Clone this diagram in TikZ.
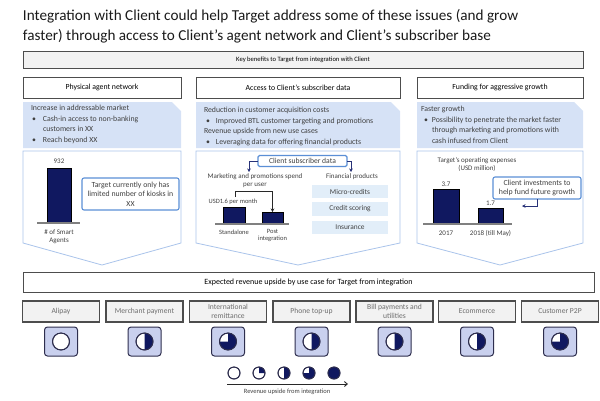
\documentclass[tikz,border=0pt]{standalone}
\usepackage{fontspec}
\setmainfont{Carlito}
\usetikzlibrary{arrows.meta}
\definecolor{navy}{RGB}{16,24,96}
\definecolor{lblue}{RGB}{214,226,246}
\definecolor{pborder}{RGB}{170,196,235}
\definecolor{cborder}{RGB}{91,143,214}
\definecolor{hborder}{RGB}{77,77,77}
\definecolor{greyfill}{RGB}{242,242,242}
\definecolor{iconfill}{RGB}{201,208,238}
\definecolor{iconborder}{RGB}{46,46,78}
\definecolor{finfill}{RGB}{226,238,249}
\definecolor{txt}{RGB}{64,64,64}
\definecolor{uctext}{RGB}{110,110,110}
\definecolor{axisgrey}{RGB}{128,128,128}
\definecolor{arrowblue}{RGB}{40,50,120}
\newcommand\hball[5]{%
  \node[hbnode, minimum size=2*#4pt] (#1) at (#2,#3) {};
  \ifnum#5>0 \fill[navy] (#1.center) -- ++(90:#4pt) arc[start angle=90, delta angle=-90*#5, radius=#4pt] -- cycle;\fi
  \draw[iconborder, line width=0.9pt] (#1.center) circle[radius=#4pt];
}
\begin{document}
\begin{tikzpicture}[x=1pt,y=-1pt,
  every node/.style={inner sep=0pt, outer sep=0pt, text=txt},
  titletext/.style={anchor=base west, font=\fontsize{15.2}{18}\selectfont, text={rgb,255:red,26;green,26;blue,26}},
  keybar/.style={draw=hborder, fill=greyfill, line width=1pt, font=\fontsize{6.6}{8}\selectfont, text=black},
  hdr/.style={draw=hborder, fill=white, line width=1pt, minimum height=21pt, font=\fontsize{7.8}{9}\selectfont, text=black},
  bluebox/.style={fill=lblue},
  panel/.style={draw=pborder, fill=white, line width=0.8pt},
  body/.style={anchor=north west, align=left, font=\fontsize{7.8}{10.4}\selectfont},
  small/.style={font=\fontsize{7}{8}\selectfont, align=center},
  tiny/.style={font=\fontsize{6.5}{7.5}\selectfont, align=center},
  bar/.style={fill=navy, draw=black, line width=0.6pt, anchor=south},
  axisline/.style={draw=axisgrey, line width=1.6pt},
  callout/.style={draw=cborder, fill=white, line width=1.1pt, rounded corners=2pt, align=center, font=\fontsize{7.8}{9.6}\selectfont},
  finbox/.style={fill=finfill, minimum width=76pt, font=\fontsize{7.4}{9}\selectfont},
  conn/.style={draw=arrowblue, line width=0.9pt, -{Stealth[length=3.5pt,width=3.5pt]}},
  bracket/.style={draw={rgb,255:red,40;green,40;blue,40}, line width=0.9pt, -{Stealth[length=3.5pt,width=3.5pt]}},
  ucbox/.style={draw=hborder, fill=greyfill, line width=1.1pt, minimum width=77pt, minimum height=21pt, align=center, font=\fontsize{7.6}{9}\selectfont, text=uctext},
  iconbox/.style={draw=iconborder, fill=iconfill, line width=1pt, rounded corners=3pt, minimum width=33pt, minimum height=29pt},
  hbnode/.style={circle, fill=white, draw=iconborder, line width=0.9pt},
]
\useasboundingbox (0,0) rectangle (600,400);

% title
\node[titletext] (t1) at (23,20) {Integration with Client could help Target address some of these issues (and grow};
\node[titletext] (t2) at (23,40.5) {faster) through access to Client's agent network and Client's subscriber base};

% key benefits bar
\node[keybar, minimum width=560pt, minimum height=17pt] (kb) at (303,59.5) {Key benefits to Target from integration with Client};

% headers
\node[hdr, minimum width=158pt] (h1) at (102,87.5) {Physical agent network};
\node[hdr, minimum width=204pt] (h2) at (298,87.5) {Access to Client's subscriber data};
\node[hdr, minimum width=166pt] (h3) at (500,87.5) {Funding for aggressive growth};

% blue boxes
\path[bluebox] (23,102) -- (172,102) -- (181,111) -- (181,148) -- (23,148) -- cycle;
\path[bluebox] (196,102) -- (391,102) -- (400,111) -- (400,148) -- (196,148) -- cycle;
\path[bluebox] (417,102) -- (574,102) -- (583,111) -- (583,148) -- (417,148) -- cycle;

\node[body] (b1) at (31,105.5) {Increase in addressable market\\
\hspace*{1pt}\makebox[11pt][l]{\textbullet}Cash-in access to non-banking\\
\hspace*{12pt}customers in XX\\
\hspace*{1pt}\makebox[11pt][l]{\textbullet}Reach beyond XX};
\node[body] (b2) at (204,107.5) {Reduction in customer acquisition costs\\
\hspace*{2pt}\makebox[10pt][l]{\textbullet}Improved BTL customer targeting and promotions\\
Revenue upside from new use cases\\
\hspace*{2pt}\makebox[10pt][l]{\textbullet}Leveraging data for offering financial products};
\node[body] (b3) at (421,106.5) {Faster growth\\
\hspace*{3pt}\makebox[8pt][l]{\textbullet}Possibility to penetrate the market faster\\
\hspace*{11pt}through marketing and promotions with\\
\hspace*{11pt}cash infused from Client};

% lower panels
\path[panel] (23,151) -- (181,151) -- (181,243) -- (102,265) -- (23,243) -- cycle;
\path[panel] (196,151) -- (400,151) -- (400,243) -- (298,265) -- (196,243) -- cycle;
\path[panel] (417,151) -- (583,151) -- (583,243) -- (500,265) -- (417,243) -- cycle;

% panel 1 chart
\node[bar, minimum width=24pt, minimum height=55pt] (agents) at (59,223) {};
\node[small] (n932) at (59,161) {932};
\path[axisline] (37,223) -- (80,223);
\node[small] (lagents) at (59,237) {\# of Smart\\Agents};
\node[callout, minimum width=97pt, minimum height=32pt] (kiosk) at (130.5,194) {Target currently only has\\limited number of kiosks in\\XX};

% panel 2
\node[draw=cborder, fill=white, line width=1.1pt, rounded corners=1.5pt, minimum width=89pt, minimum height=11pt, font=\fontsize{7.6}{9}\selectfont] (csd) at (302.5,161) {Client subscriber data};
\coordinate (mktin) at (249,172);
\coordinate (finin) at (351,172);
\draw[conn] (csd.west) -| (mktin);
\draw[conn] (csd.east) -| (finin);
\node[small] (mkt) at (255,181) {Marketing and promotions spend\\per user};
\node[small] (fin) at (352,177) {Financial products};
\node[bar, minimum width=22pt, minimum height=17pt] (stand) at (234,224) {};
\node[bar, minimum width=21pt, minimum height=12pt] (post) at (272.5,224) {};
\path[axisline] (215,224) -- (289,224);
\node[tiny] (usd) at (233,202) {USD1.6 per month};
\coordinate (brs) at (235,197);
\draw[bracket] (brs) |- (272.5,191) -- (post.north);
\node[tiny] (lstand) at (234,232) {Standalone};
\node[tiny] (lpost) at (272.5,235.5) {Post\\integration};
\node[finbox, minimum height=13pt] (micro) at (350,191.5) {Micro-credits};
\node[finbox, minimum height=14pt] (credit) at (350,209) {Credit scoring};
\node[finbox, minimum height=13pt] (insur) at (350,227.5) {Insurance};

% panel 3
\node[small] (opex) at (477,165) {Target's operating expenses\\(USD million)};
\node[bar, minimum width=26pt, minimum height=35pt] (y17) at (446,224) {};
\node[bar, minimum width=25pt, minimum height=16pt] (y18) at (490.5,224) {};
\node[small] (v17) at (446,184) {3.7};
\node[small] (v18) at (490.5,203) {1.7};
\path[axisline] (423,224) -- (512,224);
\node[small] (l17) at (446,233) {2017};
\node[small] (l18) at (490.5,233) {2018 (till May)};
\node[callout, minimum width=88pt, minimum height=22pt] (invest) at (537,188) {Client investments to\\help fund future growth};
\coordinate (fundin) at (522,206);
\draw[conn] (invest.south) |- (fundin);

% expected revenue bar
\node[hdr, minimum width=571pt, minimum height=20pt, font=\fontsize{8}{9}\selectfont] (exp) at (308.5,282) {Expected revenue upside by use case for Target from integration};

% use cases
\node[ucbox] (u1) at (61,311.5) {Alipay};
\node[ucbox] (u2) at (144.5,311.5) {Merchant payment};
\node[ucbox] (u3) at (228,311.5) {International\\remittance};
\node[ucbox] (u4) at (311.5,311.5) {Phone top-up};
\node[ucbox] (u5) at (394.5,311.5) {Bill payments and\\utilities};
\node[ucbox] (u6) at (477,311.5) {Ecommerce};
\node[ucbox] (u7) at (560,311.5) {Customer P2P};

\node[iconbox] (i1) at (61,341.5) {};
\node[iconbox] (i2) at (144.5,341.5) {};
\node[iconbox] (i3) at (228,341.5) {};
\node[iconbox] (i4) at (311.5,341.5) {};
\node[iconbox] (i5) at (394.5,341.5) {};
\node[iconbox] (i6) at (477,341.5) {};
\node[iconbox] (i7) at (560,341.5) {};
\hball{hb1}{61}{341.5}{8.5}{0}
\hball{hb2}{144.5}{341.5}{8.5}{2}
\hball{hb3}{228}{341.5}{8.5}{3}
\hball{hb4}{311.5}{341.5}{8.5}{2}
\hball{hb5}{394.5}{341.5}{8.5}{2}
\hball{hb6}{477}{341.5}{8.5}{2}
\hball{hb7}{560}{341.5}{8.5}{3}

% legend
\hball{lg0}{234}{373}{6}{0}
\hball{lg1}{259}{373}{6}{1}
\hball{lg2}{284}{373}{6}{2}
\hball{lg3}{309}{373}{6}{3}
\hball{lg4}{334}{373}{6}{4}
\coordinate (lgs) at (227,384);
\coordinate (lge) at (348,384);
\draw[line width=0.9pt, draw={rgb,255:red,40;green,40;blue,40}, -{Straight Barb[length=3pt,width=5pt]}] (lgs) -- (lge);
\node[tiny] (lgt) at (287,392) {Revenue upside from integration};
\end{tikzpicture}
\end{document}
